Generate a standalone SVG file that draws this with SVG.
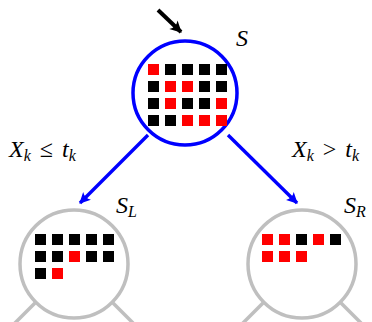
<svg xmlns="http://www.w3.org/2000/svg" width="372" height="322" viewBox="0 0 372 322">
<defs>
<style>
.r{fill:#ff0000}
.b{fill:#000000}
.node{fill:none;stroke-width:3.5}
.top{stroke:#0000ff}
.gray{stroke:#bfbfbf}
.leg{stroke:#bfbfbf;stroke-width:3.5;fill:none}
.edge{stroke:#0000ff;stroke-width:3.4;fill:none}
.lbl{font-family:"Liberation Serif",serif;font-style:italic;font-size:24px;fill:#000}
.rel{font-style:normal}
.sub{font-size:16px}
</style>
<marker id="ab" markerUnits="userSpaceOnUse" markerWidth="16" markerHeight="16" refX="12" refY="8" orient="auto" viewBox="0 0 16 16">
<path d="M13,8 L2,2.5 Q5.5,8 2,13.5 Z" fill="#0000ff"/>
</marker>
<marker id="ak" markerUnits="userSpaceOnUse" markerWidth="16" markerHeight="16" refX="12" refY="8" orient="auto" viewBox="0 0 16 16">
<path d="M13,8 L1.5,2 Q5.5,8 1.5,14 Z" fill="#000"/>
</marker>
</defs>
<rect width="372" height="322" fill="#fff"/>
<g id="connectors">
<line x1="158" y1="10" x2="181" y2="32" stroke="#000" stroke-width="4" marker-end="url(#ak)"/>
<line class="edge" x1="148" y1="135" x2="80" y2="203" marker-end="url(#ab)"/>
<line class="edge" x1="228" y1="135" x2="297" y2="203" marker-end="url(#ab)"/>
<text class="lbl" x="9" y="157">X<tspan class="sub" dy="4">k</tspan><tspan class="rel" dx="9" dy="-4">≤</tspan><tspan dx="9">t</tspan><tspan class="sub" dy="4">k</tspan></text>
<text class="lbl" x="292" y="157">X<tspan class="sub" dy="4">k</tspan><tspan class="rel" dx="9" dy="-4">&gt;</tspan><tspan dx="9">t</tspan><tspan class="sub" dy="4">k</tspan></text>
</g>
<g id="node-S">
<circle class="node top" cx="185" cy="93" r="52"/>
<rect class="r" x="148" y="64" width="11" height="11"/><rect class="b" x="165" y="64" width="11" height="11"/><rect class="b" x="182" y="64" width="11" height="11"/><rect class="b" x="199" y="64" width="11" height="11"/><rect class="b" x="216" y="64" width="11" height="11"/>
<rect class="b" x="148" y="81" width="11" height="11"/><rect class="r" x="165" y="81" width="11" height="11"/><rect class="r" x="182" y="81" width="11" height="11"/><rect class="b" x="199" y="81" width="11" height="11"/><rect class="b" x="216" y="81" width="11" height="11"/>
<rect class="b" x="148" y="98" width="11" height="11"/><rect class="r" x="165" y="98" width="11" height="11"/><rect class="b" x="182" y="98" width="11" height="11"/><rect class="b" x="199" y="98" width="11" height="11"/><rect class="r" x="216" y="98" width="11" height="11"/>
<rect class="b" x="148" y="115" width="11" height="11"/><rect class="b" x="165" y="115" width="11" height="11"/><rect class="r" x="182" y="115" width="11" height="11"/><rect class="r" x="199" y="115" width="11" height="11"/><rect class="r" x="216" y="115" width="11" height="11"/>
<text class="lbl" x="236" y="46">S</text>
</g>
<g id="node-SL">
<circle class="node gray" cx="74" cy="264" r="54"/>
<line class="leg" x1="36" y1="302" x2="14" y2="324"/>
<line class="leg" x1="112" y1="302" x2="134" y2="324"/>
<rect class="b" x="35" y="234" width="11" height="11"/><rect class="b" x="52" y="234" width="11" height="11"/><rect class="b" x="69" y="234" width="11" height="11"/><rect class="b" x="86" y="234" width="11" height="11"/><rect class="b" x="103" y="234" width="11" height="11"/>
<rect class="b" x="35" y="251" width="11" height="11"/><rect class="b" x="52" y="251" width="11" height="11"/><rect class="r" x="69" y="251" width="11" height="11"/><rect class="b" x="86" y="251" width="11" height="11"/><rect class="b" x="103" y="251" width="11" height="11"/>
<rect class="b" x="35" y="268" width="11" height="11"/><rect class="r" x="52" y="268" width="11" height="11"/>
<text class="lbl" x="116" y="213">S<tspan class="sub" dy="4">L</tspan></text>
</g>
<g id="node-SR">
<circle class="node gray" cx="302" cy="264" r="54"/>
<line class="leg" x1="264" y1="302" x2="242" y2="324"/>
<line class="leg" x1="340" y1="302" x2="362" y2="324"/>
<rect class="r" x="262" y="234" width="11" height="11"/><rect class="r" x="279" y="234" width="11" height="11"/><rect class="b" x="296" y="234" width="11" height="11"/><rect class="r" x="313" y="234" width="11" height="11"/><rect class="b" x="330" y="234" width="11" height="11"/>
<rect class="r" x="262" y="251" width="11" height="11"/><rect class="r" x="279" y="251" width="11" height="11"/><rect class="r" x="296" y="251" width="11" height="11"/>
<text class="lbl" x="344" y="213">S<tspan class="sub" dy="4">R</tspan></text>
</g>
</svg>
